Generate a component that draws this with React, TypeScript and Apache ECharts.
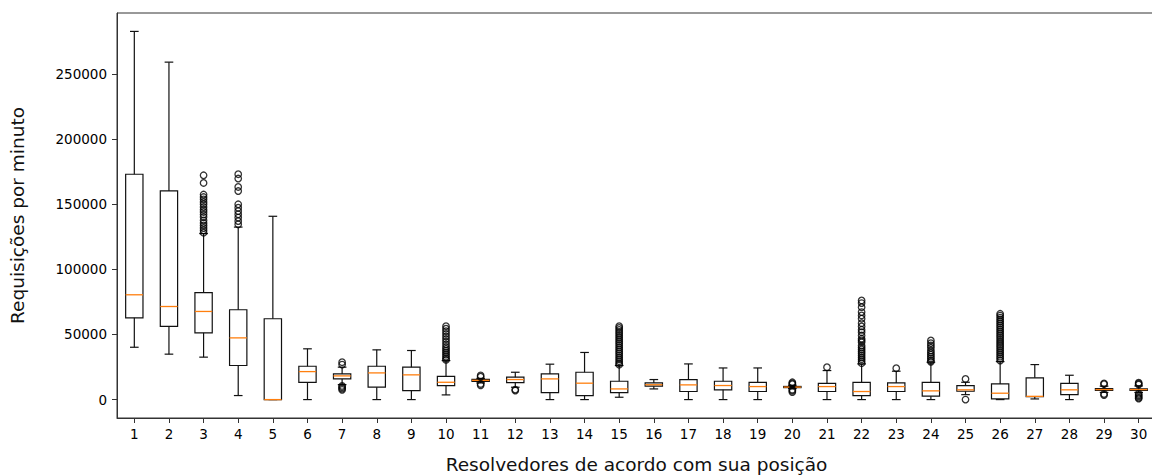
import React, { useEffect, useRef } from "react";
import * as echarts from "echarts";

// Resolver positions on the x axis
const categories = [
  "1", "2", "3", "4", "5", "6", "7", "8", "9", "10",
  "11", "12", "13", "14", "15", "16", "17", "18", "19", "20",
  "21", "22", "23", "24", "25", "26", "27", "28", "29", "30",
];

// Box statistics (requests per minute) for each resolver
const whiskerLow = [40200, 34900, 32600, 3100, 0, 0, 11500, 0, 0, 3600, 12800, 9500, 0, 0, 1800, 8200, 0, 0, 0, 8500, 0, 0, 0, 0, 3800, 0, 500, 0, 5500, 5500];
const q1 = [62800, 56200, 51300, 26200, 0, 13300, 15900, 9500, 6900, 10800, 14000, 13100, 5400, 3100, 5400, 10300, 6200, 7500, 6200, 9200, 6200, 3100, 6200, 2600, 6400, 500, 2200, 3800, 7000, 7000];
const median = [80500, 71500, 67700, 47400, 0, 21500, 18200, 20500, 19000, 13300, 14800, 15400, 15900, 12600, 8200, 11400, 11300, 10800, 10000, 9600, 10000, 6200, 10000, 6700, 7500, 4900, 2500, 7500, 7700, 7700];
const q3 = [173100, 160300, 82100, 69000, 62100, 25600, 19700, 25600, 24900, 17900, 15600, 17200, 19700, 21000, 14100, 12800, 15400, 14100, 13300, 10100, 12500, 13300, 12800, 13300, 10800, 12000, 16700, 12500, 8400, 8300];
const whiskerHigh = [282800, 259200, 127500, 132500, 140800, 39000, 24900, 38200, 37700, 30000, 16300, 21000, 27200, 36200, 26200, 15400, 27400, 24300, 24300, 11000, 22300, 27400, 21800, 28700, 13300, 29200, 26900, 18700, 10300, 10500];

// Flier points beyond the whiskers, one list per resolver
const outliers: number[][] = [
  [],
  [],
  [172300, 166400, 157500, 155600, 153800, 151800, 150000, 147900, 145900, 144100, 142100, 140200, 137700, 135600, 133800, 131800, 130000, 128200],
  [173100, 169800, 163300, 160200, 150000, 147400, 144800, 142300, 139800, 137100, 134600],
  [],
  [],
  [28700, 26900, 10500, 9500, 8500, 7500],
  [],
  [],
  [56400, 54500, 52500, 50500, 48500, 46500, 44500, 42500, 40500, 39000, 37500, 36000, 34500, 33000, 31500, 30500],
  [18600, 17600, 12000, 11000],
  [7700, 6900],
  [],
  [],
  [56400, 55000, 53500, 52000, 50500, 49000, 47500, 46000, 44500, 43000, 41500, 40000, 38500, 37000, 35500, 34000, 32500, 31000, 29500, 28000, 26800],
  [],
  [],
  [],
  [],
  [13300, 12500, 11800, 7600, 6800, 5800],
  [24900],
  [76200, 74100, 71000, 67200, 64600, 62100, 58700, 56200, 53600, 51800, 49200, 46700, 45400, 44100, 41500, 40000, 38500, 37000, 35500, 34000, 32500, 31000, 29500, 28000],
  [24100],
  [45400, 43300, 41500, 39800, 37700, 36000, 34500, 33000, 31500, 30000, 29000],
  [15900, 0],
  [65900, 64500, 63000, 61500, 60000, 58500, 57000, 55500, 54000, 52500, 51000, 49500, 48000, 46500, 45000, 43500, 42000, 40500, 39000, 37500, 36000, 34500, 33000, 31500, 30000],
  [],
  [],
  [12500, 11800, 4300, 3500],
  [13000, 12200, 11500, 4500, 3500, 2500, 1500, 800],
];

const yTicks = [0, 50000, 100000, 150000, 200000, 250000];
const yMin = -14140;
const yMax = 296940;

const FONT = "DejaVu Sans";

export default function App() {
  const ref = useRef<HTMLDivElement>(null);

  useEffect(() => {
    if (!ref.current) return;
    const chart = echarts.init(ref.current, null, { renderer: "svg" });

    const boxData = categories.map((_, i) => [i, whiskerLow[i], q1[i], median[i], q3[i], whiskerHigh[i]]);
    const flierData: number[][] = [];
    outliers.forEach((list, i) => list.forEach((v) => flierData.push([i, v])));

    const lineStyle = { stroke: "#111", lineWidth: 1.2, fill: "none" };

    chart.setOption({
      animation: false,
      grid: {
        left: 117,
        right: -4,
        top: 13,
        bottom: 58,
        containLabel: false,
        outerBoundsMode: "none",
        show: true,
        borderColor: "#333",
        borderWidth: 1,
        backgroundColor: "transparent",
      },
      xAxis: {
        type: "category",
        data: categories,
        boundaryGap: true,
        name: "Resolvedores de acordo com sua posição",
        nameLocation: "middle",
        nameGap: 37,
        nameTextStyle: { fontFamily: FONT, fontSize: 18.5, color: "#111" },
        axisLine: { show: true, onZero: false, lineStyle: { color: "#333", width: 1 } },
        axisTick: { show: true, alignWithLabel: true, length: 5, lineStyle: { color: "#333" } },
        axisLabel: { fontFamily: FONT, fontSize: 13.5, color: "#000", margin: 9, interval: 0 },
        splitLine: { show: false },
      },
      yAxis: {
        type: "value",
        min: yMin,
        max: yMax,
        name: "Requisições por minuto",
        nameLocation: "middle",
        nameGap: 90,
        nameTextStyle: { fontFamily: FONT, fontSize: 18.5, color: "#111" },
        axisLine: { show: true, lineStyle: { color: "#333", width: 1 } },
        axisTick: { show: true, length: 5, customValues: yTicks, lineStyle: { color: "#333" } },
        axisLabel: {
          fontFamily: FONT,
          fontSize: 13.5,
          color: "#000",
          margin: 10,
          customValues: yTicks,
          formatter: (v: number) => String(v),
        },
        splitLine: { show: false },
      },
      series: [
        {
          type: "custom",
          data: boxData,
          encode: { x: 0, y: [1, 2, 3, 4, 5] },
          renderItem: (_params: any, api: any) => {
            const idx = api.value(0);
            const lo = api.coord([idx, api.value(1)]);
            const b1 = api.coord([idx, api.value(2)]);
            const md = api.coord([idx, api.value(3)]);
            const b3 = api.coord([idx, api.value(4)]);
            const hi = api.coord([idx, api.value(5)]);
            const bw = api.size([1, 0])[0] * 0.5;
            const cx = lo[0];
            const cap = bw / 2;
            return {
              type: "group",
              children: [
                { type: "line", shape: { x1: cx, y1: hi[1], x2: cx, y2: b3[1] }, style: lineStyle },
                { type: "line", shape: { x1: cx, y1: lo[1], x2: cx, y2: b1[1] }, style: lineStyle },
                { type: "line", shape: { x1: cx - cap / 2, y1: hi[1], x2: cx + cap / 2, y2: hi[1] }, style: lineStyle },
                { type: "line", shape: { x1: cx - cap / 2, y1: lo[1], x2: cx + cap / 2, y2: lo[1] }, style: lineStyle },
                {
                  type: "rect",
                  shape: { x: cx - bw / 2, y: b3[1], width: bw, height: b1[1] - b3[1] },
                  style: lineStyle,
                },
                {
                  type: "line",
                  shape: { x1: cx - bw / 2, y1: md[1], x2: cx + bw / 2, y2: md[1] },
                  style: { stroke: "#ff7f0e", lineWidth: 1.3 },
                },
              ],
            };
          },
          z: 2,
        },
        {
          type: "scatter",
          data: flierData,
          symbol: "circle",
          symbolSize: 6.5,
          itemStyle: { color: "rgba(0,0,0,0)", borderColor: "#000", borderWidth: 1.3 },
          z: 3,
        },
      ],
    });

    return () => chart.dispose();
  }, []);

  return (
    <div
      ref={ref}
      style={{ position: "fixed", left: 0, top: 0, width: 1152, height: 476, background: "#fff" }}
    />
  );
}
